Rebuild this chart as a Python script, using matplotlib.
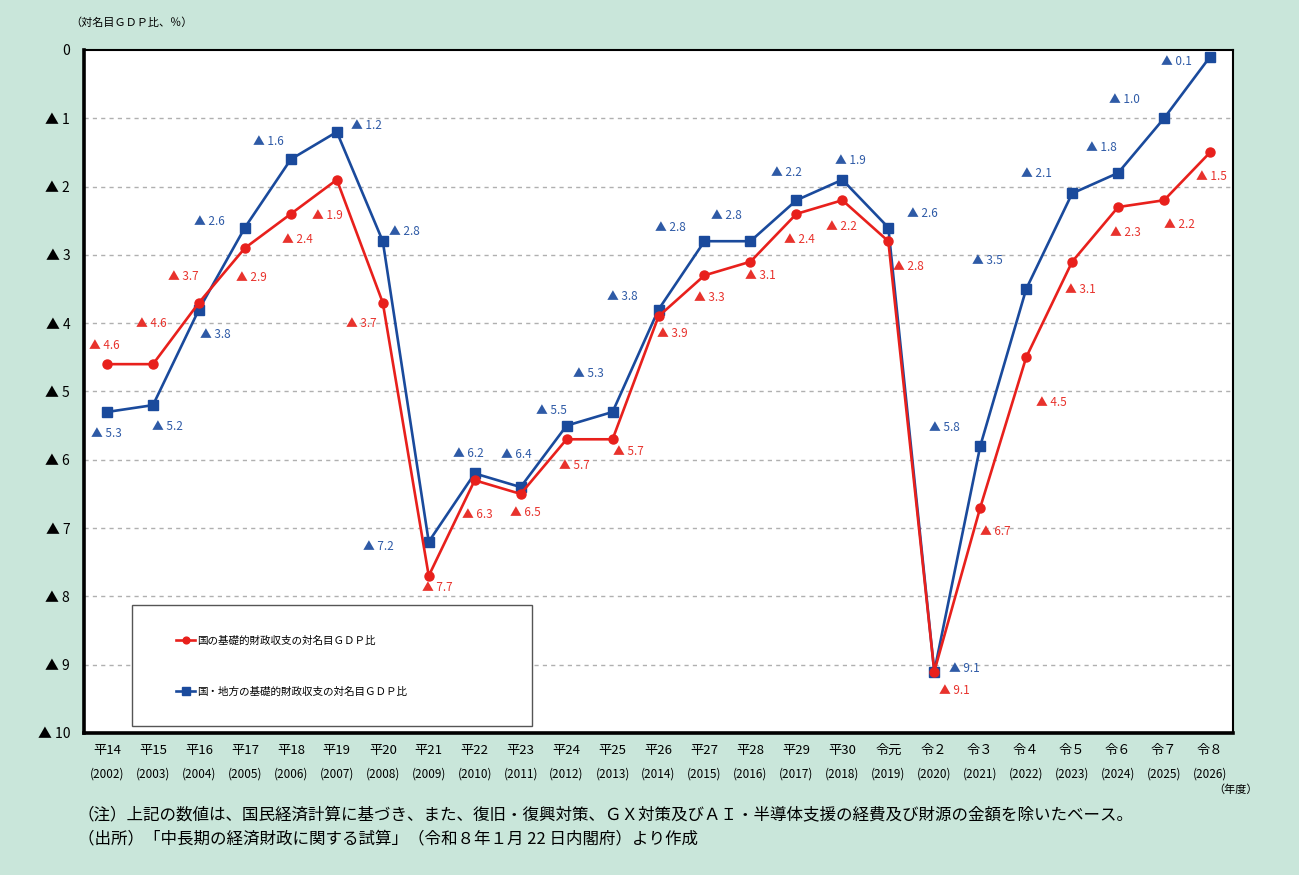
import matplotlib.pyplot as plt
from matplotlib.patches import Rectangle

plt.rcParams['font.family'] = ['Noto Sans CJK JP', 'DejaVu Sans']

# 年度ラベル
era = ['平14', '平15', '平16', '平17', '平18', '平19', '平20', '平21', '平22', '平23',
       '平24', '平25', '平26', '平27', '平28', '平29', '平30', '令元', '令２', '令３',
       '令４', '令５', '令６', '令７', '令８']
years = list(range(2002, 2027))

# 基礎的財政収支の対名目GDP比（赤字幅、▲）
kuni = [4.6, 4.6, 3.7, 2.9, 2.4, 1.9, 3.7, 7.7, 6.3, 6.5, 5.7, 5.7, 3.9, 3.3, 3.1,
        2.4, 2.2, 2.8, 9.1, 6.7, 4.5, 3.1, 2.3, 2.2, 1.5]
kuni_chiho = [5.3, 5.2, 3.8, 2.6, 1.6, 1.2, 2.8, 7.2, 6.2, 6.4, 5.5, 5.3, 3.8, 2.8, 2.8,
              2.2, 1.9, 2.6, 9.1, 5.8, 3.5, 2.1, 1.8, 1.0, 0.1]

# data label offsets (pixels, image-down positive)
red_off = [(-18, -19), (-17, -41), (-31, -26), (-9, 29), (-9, 26), (-25, 36), (-37, 21),
           (-7, 12), (-13, 34), (-11, 19), (-8, 26), (0, 12), (-2, 17), (-10, 22), (-5, 14),
           (-12, 26), (-16, 26), (5, 25), (5, 19), (0, 24), (10, 45), (-7, 28), (-8, 25),
           (0, 24), (-14, 24)]
blue_off = [(-16, 22), (-1, 21), (1, 25), (-51, -6), (-38, -18), (14, -6), (6, -10),
            (-66, 5), (-22, -20), (-20, -33), (-31, -15), (-40, -38), (-52, -13), (-49, -14),
            (-39, -26), (-25, -28), (-7, -19), (19, -14), (15, -3), (-51, -19), (-54, -29),
            (-51, -20), (-32, -25), (-55, -19), (-49, 5)]

red = '#e8201c'
blue = '#1a4a9c'
red_txt = '#e8322c'
blue_txt = '#2e5aa6'
bg = '#c9e6da'

fig = plt.figure(figsize=(12.99, 8.75), dpi=100, facecolor=bg)
ax = fig.add_axes([0.0647, 0.1623, 0.8845, 0.7806])
ax.set_facecolor('white')

x = list(range(len(era)))
ax.plot(x, kuni, color=red, lw=1.9, marker='o', ms=6.5, label='国の基礎的財政収支の対名目ＧＤＰ比', zorder=4)
ax.plot(x, kuni_chiho, color=blue, lw=1.9, marker='s', ms=7, label='国・地方の基礎的財政収支の対名目ＧＤＰ比', zorder=3)

for i in x:
    dx, dy = red_off[i]
    ax.annotate(f'▲ {kuni[i]:.1f}', (i, kuni[i]), xytext=(dx, -dy), textcoords='offset pixels',
                ha='left', va='center', fontsize=8.5, color=red_txt, zorder=5)
    dx, dy = blue_off[i]
    ax.annotate(f'▲ {kuni_chiho[i]:.1f}', (i, kuni_chiho[i]), xytext=(dx, -dy), textcoords='offset pixels',
                ha='left', va='center', fontsize=8.5, color=blue_txt, zorder=5)

ax.set_xlim(-0.5, len(era) - 0.5)
ax.set_ylim(10, 0)
ax.set_yticks(range(11))
ax.set_yticklabels(['0'] + [f'▲ {v}' for v in range(1, 11)], fontsize=10)
ax.set_xticks(x)
ax.set_xticklabels(era, fontsize=9.5)
ax.tick_params(axis='both', length=0)
ax.tick_params(axis='y', pad=10)
ax.tick_params(axis='x', pad=8)
trans = ax.get_xaxis_transform()
for i, y in enumerate(years):
    ax.text(i, -0.06, f'({y})', transform=trans, ha='center', va='center', fontsize=8.5)

for v in range(1, 10):
    ax.axhline(v, color='#b0b0b0', lw=1, ls=(0, (3, 3)), zorder=1)

for side in ['left', 'bottom']:
    ax.spines[side].set_linewidth(2.6)
for side in ['top', 'right']:
    ax.spines[side].set_linewidth(1.5)

# legend box
ax.add_patch(Rectangle((0.0418, 0.010), 0.348, 0.177, transform=ax.transAxes,
                       facecolor='white', edgecolor='#555555', lw=1, zorder=6))
leg = ax.legend(loc='center left', bbox_to_anchor=(0.072, 0.098), frameon=False, fontsize=7.6,
                labelspacing=3.9, handlelength=1.8, handletextpad=0.2, markerscale=0.75)
leg.set_zorder(7)

fig.text(0.054, 0.974, '（対名目ＧＤＰ比、％）', fontsize=8, ha='left', va='center')
fig.text(0.968, 0.098, '（年度）', fontsize=8, ha='right', va='center')
fig.text(0.060, 0.068, '（注）上記の数値は、国民経済計算に基づき、また、復旧・復興対策、ＧＸ対策及びＡＩ・半導体支援の経費及び財源の金額を除いたベース。',
         fontsize=11.9, ha='left', va='center')
fig.text(0.060, 0.041, '（出所）「中長期の経済財政に関する試算」（令和８年１月 22 日内閣府）より作成',
         fontsize=11.9, ha='left', va='center')

fig.savefig('out.png', dpi=100, facecolor=bg)
